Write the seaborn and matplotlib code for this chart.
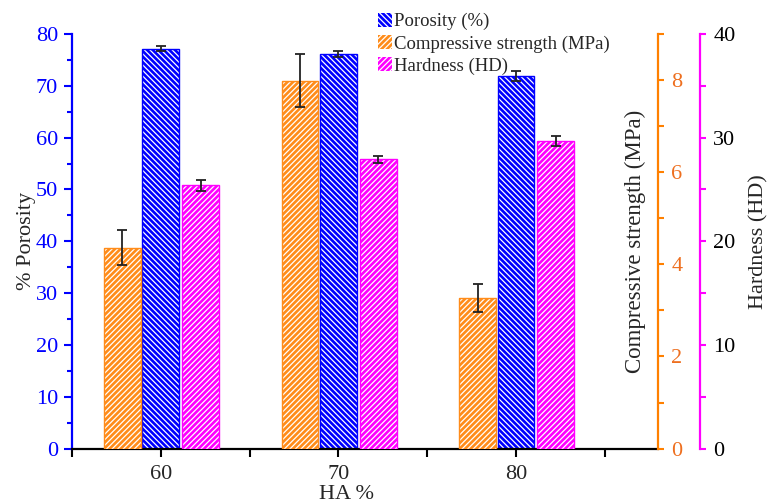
import matplotlib
matplotlib.use('Agg')
import numpy as np
import pandas as pd
import matplotlib.pyplot as plt
import matplotlib.patches as mpatches
from matplotlib.ticker import MultipleLocator, FixedLocator, NullFormatter
import seaborn as sns

# data
ha_content = [60, 70, 80]
porosity = [77.2, 76.2, 71.9]
porosity_err = [0.55, 0.55, 0.95]
strength = [4.36, 7.99, 3.27]
strength_err = [0.38, 0.57, 0.31]
hardness = [25.4, 27.9, 29.7]
hardness_err = [0.55, 0.3, 0.5]

BLUE = '#0000FF'
ORANGE = '#FF8C1A'
ORANGE_AXIS = '#FF8000'
ORANGE_TEXT = '#EE6F1F'
PINK = '#FF00FF'
HATCH_BLUE = '\\' * 6
HATCH_UP = '/' * 6

sns.set_style('ticks')
plt.rcParams['font.family'] = ['Liberation Serif', 'DejaVu Serif']
plt.rcParams['hatch.linewidth'] = 0.9
plt.rcParams['font.size'] = 16

fig = plt.figure(figsize=(7.69, 5.04), dpi=100)
ax = fig.add_axes([72 / 769, 1 - 448.6 / 504, 586 / 769, 414.6 / 504])
ax2 = ax.twinx()
ax3 = ax.twinx()


def hatched_bars(axis, offset, values, errs, color, hatch):
    df = pd.DataFrame({'pos': np.array(ha_content) + offset, 'val': values})
    n_before = len(axis.patches)
    sns.barplot(data=df, x='pos', y='val', native_scale=True, width=0.207,
                color=color, saturation=1, errorbar=None, ax=axis)
    for p in axis.patches[n_before:]:
        p.set_facecolor(color)
        p.set_edgecolor('white')
        p.set_linewidth(0)
        p.set_hatch(hatch)
        axis.add_patch(mpatches.Rectangle(p.get_xy(), p.get_width(), p.get_height(),
                                          fill=False, edgecolor=color, lw=1.0))
    axis.errorbar(df['pos'], df['val'], yerr=errs, fmt='none', ecolor='#222222',
                  elinewidth=1.3, capsize=3.5, capthick=1.3, zorder=5)


hatched_bars(ax, 0.0, porosity, porosity_err, BLUE, HATCH_BLUE)
hatched_bars(ax2, -2.16, strength, strength_err, ORANGE, HATCH_UP)
hatched_bars(ax3, 2.24, hardness, hardness_err, PINK, HATCH_UP)

# x axis
ax.set_xlim(55, 88)
ax.xaxis.set_major_locator(FixedLocator([60, 70, 80]))
ax.xaxis.set_minor_locator(FixedLocator([55, 65, 75, 85]))
ax.xaxis.set_minor_formatter(NullFormatter())
ax.tick_params(axis='x', which='both', direction='out', length=6, width=1.5,
               color='black', labelsize=16, pad=6)
ax.set_xlabel('HA %', fontsize=16)
ax.xaxis.set_label_coords(0.469, -0.088)

# left axis: porosity
ax.set_ylim(0, 80)
ax.yaxis.set_major_locator(MultipleLocator(10))
ax.yaxis.set_minor_locator(MultipleLocator(5))
ax.tick_params(axis='y', which='major', direction='out', length=6, width=1.5,
               color=BLUE, labelcolor=BLUE, labelsize=16, pad=4)
ax.tick_params(axis='y', which='minor', direction='out', length=3.5, width=1.5, color=BLUE)
ax.set_ylabel('% Porosity', fontsize=16)
ax.yaxis.set_label_coords(-0.062, 0.5)
for s in ['top', 'right']:
    ax.spines[s].set_visible(False)
ax.spines['left'].set_color(BLUE)
ax.spines['left'].set_linewidth(1.6)
ax.spines['bottom'].set_color('black')
ax.spines['bottom'].set_linewidth(1.6)

# orange axis: compressive strength
ax2.set_ylim(0, 9)
ax2.yaxis.set_major_locator(MultipleLocator(2))
ax2.yaxis.set_minor_locator(MultipleLocator(1))
ax2.tick_params(axis='y', which='major', direction='out', length=4.5, width=1.5,
                color=ORANGE_AXIS, labelcolor=ORANGE_TEXT, labelsize=16, pad=5)
ax2.tick_params(axis='y', which='minor', direction='out', length=4.5, width=1.5,
                color=ORANGE_AXIS)
for s in ['top', 'left', 'bottom']:
    ax2.spines[s].set_visible(False)
ax2.spines['right'].set_color(ORANGE_AXIS)
ax2.spines['right'].set_linewidth(1.6)
ax2.set_ylabel('Compressive strength (MPa)', fontsize=16.5)
ax2.yaxis.set_label_coords(0.944, 0.5)

# pink axis: hardness
ax3.set_ylim(0, 40)
ax3.yaxis.set_major_locator(MultipleLocator(10))
ax3.yaxis.set_minor_locator(MultipleLocator(5))
ax3.spines['right'].set_position(('outward', 30.2))
ax3.tick_params(axis='y', which='major', direction='out', length=4.5, width=1.5,
                color=PINK, labelcolor='black', labelsize=16, pad=5)
ax3.tick_params(axis='y', which='minor', direction='out', length=4.5, width=1.5, color=PINK)
for s in ['top', 'left', 'bottom']:
    ax3.spines[s].set_visible(False)
ax3.spines['right'].set_color(PINK)
ax3.spines['right'].set_linewidth(1.6)
ax3.set_ylabel('Hardness (HD)', fontsize=16)
ax3.yaxis.set_label_coords(1.155, 0.5)

handles = [
    mpatches.Patch(facecolor=BLUE, edgecolor='white', lw=0, hatch=HATCH_BLUE, label='Porosity (%)'),
    mpatches.Patch(facecolor=ORANGE, edgecolor='white', lw=0, hatch=HATCH_UP, label='Compressive strength (MPa)'),
    mpatches.Patch(facecolor=PINK, edgecolor='white', lw=0, hatch=HATCH_UP, label='Hardness (HD)'),
]
ax3.legend(handles=handles, loc='upper left', bbox_to_anchor=(378 / 769, 1 - 13 / 504),
           bbox_transform=fig.transFigure, frameon=False, fontsize=13.5, borderpad=0,
           handlelength=0.75, handleheight=0.75, handletextpad=0.1, labelspacing=0.25,
           borderaxespad=0)

fig.savefig('out.png', dpi=100)
